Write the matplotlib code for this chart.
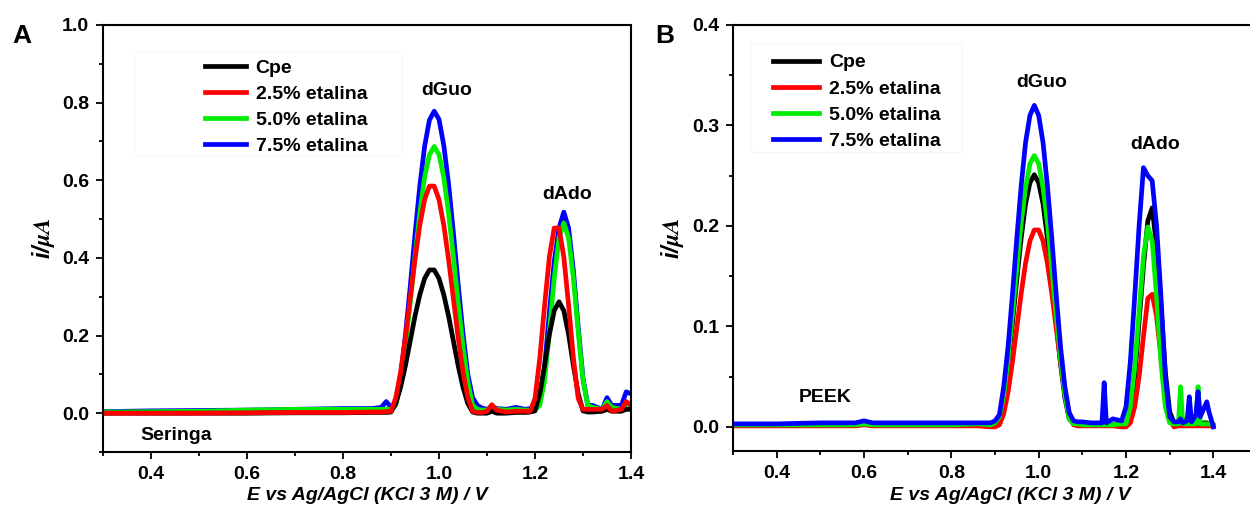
import matplotlib
matplotlib.use("Agg")
import matplotlib.pyplot as plt
from matplotlib.patches import Rectangle
from matplotlib.ticker import MultipleLocator

plt.rcParams["font.family"] = ["Liberation Sans", "DejaVu Sans"]
plt.rcParams["font.weight"] = "bold"
plt.rcParams["mathtext.fontset"] = "stix"

# --------------------------------------------
# data
# --------------------------------------------
labels = ["Cpe", "2.5% etalina", "5.0% etalina", "7.5% etalina"]
colors = ["#000000", "#ff0000", "#00ee00", "#0000ff"]

# panel A : Seringa
xa = [0.30, 0.40, 0.50, 0.60, 0.70, 0.80, 0.86, 0.88, 0.89, 0.90,
      0.91, 0.92, 0.93, 0.94, 0.95, 0.96, 0.97, 0.98, 0.99, 1.00,
      1.01, 1.02, 1.03, 1.04, 1.05, 1.06, 1.07, 1.08, 1.09, 1.10,
      1.11, 1.12, 1.14, 1.16, 1.18, 1.19, 1.20, 1.21, 1.22, 1.23,
      1.24, 1.25, 1.26, 1.27, 1.28, 1.29, 1.30, 1.31, 1.32, 1.34,
      1.35, 1.36, 1.38, 1.39, 1.40]
a_cpe = [0.0, 0.0, 0.0, 0.0, 0.001, 0.001, 0.002, 0.002, 0.002, 0.003,
         0.025, 0.067, 0.122, 0.186, 0.25, 0.305, 0.347, 0.369, 0.369, 0.347,
         0.305, 0.25, 0.186, 0.122, 0.067, 0.025, 0.003, 0.0, 0.0, 0.0,
         0.005, 0.0, 0.0, 0.002, 0.002, 0.003, 0.006, 0.05, 0.123, 0.203,
         0.264, 0.287, 0.264, 0.203, 0.123, 0.05, 0.006, 0.003, 0.003, 0.005,
         0.01, 0.005, 0.005, 0.01, 0.01]
a_25 = [0.0, 0.0, 0.0, 0.001, 0.002, 0.002, 0.003, 0.003, 0.004, 0.005,
        0.04, 0.106, 0.194, 0.295, 0.396, 0.484, 0.55, 0.585, 0.585, 0.55,
        0.484, 0.396, 0.295, 0.194, 0.106, 0.04, 0.005, 0.002, 0.002, 0.005,
        0.022, 0.008, 0.003, 0.005, 0.005, 0.005, 0.038, 0.142, 0.278, 0.403,
        0.477, 0.477, 0.403, 0.278, 0.142, 0.038, 0.01, 0.01, 0.01, 0.01,
        0.02, 0.005, 0.01, 0.03, 0.02]
a_50 = [0.003, 0.004, 0.005, 0.008, 0.01, 0.01, 0.01, 0.01, 0.01, 0.01,
        0.021, 0.08, 0.172, 0.284, 0.403, 0.515, 0.607, 0.666, 0.687, 0.666,
        0.607, 0.515, 0.403, 0.284, 0.172, 0.08, 0.021, 0.01, 0.008, 0.008,
        0.01, 0.01, 0.008, 0.01, 0.008, 0.008, 0.009, 0.02, 0.085, 0.21,
        0.347, 0.451, 0.49, 0.451, 0.347, 0.21, 0.085, 0.02, 0.015, 0.01,
        0.03, 0.015, 0.01, 0.02, 0.02]
a_75 = [0.004, 0.006, 0.007, 0.008, 0.01, 0.012, 0.012, 0.015, 0.03, 0.015,
        0.03, 0.095, 0.2, 0.325, 0.46, 0.585, 0.687, 0.755, 0.778, 0.757,
        0.69, 0.59, 0.465, 0.33, 0.205, 0.1, 0.04, 0.02, 0.013, 0.01,
        0.015, 0.012, 0.01, 0.015, 0.01, 0.012, 0.013, 0.03, 0.12, 0.26,
        0.39, 0.477, 0.518, 0.477, 0.367, 0.222, 0.09, 0.02, 0.02, 0.01,
        0.04, 0.02, 0.02, 0.055, 0.05]

# panel B : PEEK
xb = [0.30, 0.40, 0.50, 0.58, 0.60, 0.62, 0.70, 0.80, 0.86, 0.89,
      0.90, 0.91, 0.92, 0.93, 0.94, 0.95, 0.96, 0.97, 0.98, 0.99,
      1.00, 1.01, 1.02, 1.03, 1.04, 1.05, 1.06, 1.07, 1.08, 1.09,
      1.10, 1.12, 1.145, 1.15, 1.155, 1.17, 1.19,
      1.20, 1.21, 1.22, 1.23, 1.24, 1.25, 1.26, 1.27, 1.28, 1.29, 1.30, 1.31,
      1.32, 1.325, 1.33, 1.34, 1.345, 1.35, 1.36, 1.365, 1.37, 1.38, 1.385, 1.39, 1.40]
b_cpe = [0.002, 0.002, 0.003, 0.003, 0.004, 0.003, 0.003, 0.003, 0.003, 0.002,
         0.003, 0.008, 0.029, 0.063, 0.104, 0.147, 0.188, 0.222, 0.243, 0.251,
         0.243, 0.222, 0.188, 0.147, 0.104, 0.063, 0.029, 0.008, 0.003, 0.002,
         0.002, 0.002, 0.002, 0.003, 0.002, 0.002, 0.003,
         0.003, 0.015, 0.05, 0.105, 0.16, 0.205, 0.218, 0.18, 0.12, 0.055, 0.015, 0.004,
         0.004, 0.004, 0.008, 0.004, 0.004, 0.004, 0.004, 0.004, 0.004, 0.004, 0.004, 0.003, 0.002]
b_25 = [0.001, 0.001, 0.001, 0.001, 0.002, 0.001, 0.001, 0.001, 0.001, 0.0,
        0.0, 0.002, 0.013, 0.035, 0.065, 0.099, 0.133, 0.163, 0.185, 0.196,
        0.196, 0.185, 0.163, 0.133, 0.099, 0.065, 0.035, 0.013, 0.002, 0.001,
        0.001, 0.001, 0.001, 0.001, 0.001, 0.001, 0.0,
        0.0, 0.004, 0.02, 0.05, 0.09, 0.128, 0.132, 0.11, 0.07, 0.03, 0.008, 0.0,
        0.001, 0.001, 0.001, 0.001, 0.001, 0.001, 0.001, 0.001, 0.001, 0.001, 0.001, 0.001, 0.001]
b_50 = [0.002, 0.002, 0.002, 0.002, 0.003, 0.002, 0.002, 0.002, 0.003, 0.002,
        0.004, 0.01, 0.032, 0.068, 0.112, 0.158, 0.203, 0.238, 0.262, 0.27,
        0.262, 0.238, 0.203, 0.158, 0.112, 0.068, 0.032, 0.008, 0.003, 0.003,
        0.002, 0.002, 0.002, 0.002, 0.002, 0.002, 0.003,
        0.003, 0.02, 0.06, 0.115, 0.17, 0.199, 0.185, 0.13, 0.065, 0.02, 0.004, 0.003,
        0.003, 0.04, 0.003, 0.003, 0.003, 0.003, 0.003, 0.04, 0.003, 0.003, 0.003, 0.003, 0.002]
b_75 = [0.003, 0.003, 0.004, 0.004, 0.006, 0.004, 0.004, 0.004, 0.004, 0.004,
        0.006, 0.012, 0.04, 0.08, 0.132, 0.188, 0.24, 0.283, 0.31, 0.32,
        0.31, 0.283, 0.24, 0.188, 0.132, 0.08, 0.04, 0.014, 0.006, 0.005,
        0.005, 0.004, 0.004, 0.044, 0.004, 0.008, 0.006,
        0.02, 0.065, 0.13, 0.2, 0.258, 0.25, 0.245, 0.2, 0.13, 0.05, 0.01, 0.005,
        0.005, 0.008, 0.004, 0.006, 0.03, 0.005, 0.012, 0.035, 0.01, 0.02, 0.025, 0.015, 0.0]

series_a = [a_cpe, a_25, a_50, a_75]
series_b = [b_cpe, b_25, b_50, b_75]

# --------------------------------------------
# figure
# --------------------------------------------
fig = plt.figure(figsize=(12.5, 5.08), dpi=100)
ax_a = fig.add_axes([0.0824, 0.1102, 0.4224, 0.8406])
ax_b = fig.add_axes([0.5864, 0.1122, 0.4192, 0.8386])


def style_axes(ax, ymin, ymax, ymajor, yminor, xlim):
    ax.set_xlim(*xlim)
    ax.set_ylim(ymin, ymax)
    ax.xaxis.set_major_locator(MultipleLocator(0.2))
    ax.xaxis.set_minor_locator(MultipleLocator(0.1))
    ax.yaxis.set_major_locator(MultipleLocator(ymajor))
    ax.yaxis.set_minor_locator(MultipleLocator(yminor))
    ax.tick_params(which="major", length=5, width=1.3, labelsize=14, pad=5)
    ax.tick_params(which="minor", length=3, width=1.3)
    for sp in ax.spines.values():
        sp.set_linewidth(1.5)
    for lab in ax.get_xticklabels() + ax.get_yticklabels():
        lab.set_fontweight("bold")
    ax.set_xlabel("E vs Ag/AgCl (KCl 3 M) / V", fontsize=14,
                  fontstyle="italic", fontweight="bold")
    ax.set_ylabel(r"i/$\mu A$", fontsize=17, fontstyle="italic",
                  fontweight="bold")


# panel A: red drawn on top
handles = {}
for i in [3, 2, 0, 1]:
    (ln,) = ax_a.plot(xa, series_a[i], color=colors[i], lw=3.4,
                      solid_joinstyle="round", label=labels[i])
    handles[i] = ln
style_axes(ax_a, -0.1, 1.0, 0.2, 0.1, (0.3, 1.4))
ax_a.xaxis.set_label_coords(0.5, -0.083)
ax_a.yaxis.set_label_coords(-0.088, 0.5)
ax_a.legend([handles[i] for i in range(4)], labels, loc="upper left",
            bbox_to_anchor=(0.164, 0.884), bbox_transform=fig.transFigure,
            frameon=False, fontsize=14, handlelength=2.1, handletextpad=0.5,
            labelspacing=0.44, borderpad=0, borderaxespad=0)
ax_a.add_patch(Rectangle((135 / 1250, 1 - 155 / 508), 267 / 1250, 103 / 508,
                         transform=fig.transFigure, fill=False,
                         edgecolor="#f8f8f8", lw=0.8))
ax_a.text(1.015, 0.832, "dGuo", fontsize=14, ha="center", va="center")
ax_a.text(1.267, 0.564, "dAdo", fontsize=14, ha="center", va="center")
ax_a.text(0.452, -0.057, "Seringa", fontsize=14, ha="center", va="center")

# panel B: blue drawn on top
handles = {}
for i in [0, 1, 2, 3]:
    (ln,) = ax_b.plot(xb, series_b[i], color=colors[i], lw=3.4,
                      solid_joinstyle="round", label=labels[i])
    handles[i] = ln
style_axes(ax_b, -0.024, 0.4, 0.1, 0.05, (0.3, 1.5))
ax_b.set_xticks([0.4, 0.6, 0.8, 1.0, 1.2, 1.4])
ax_b.xaxis.set_label_coords(0.529, -0.085)
ax_b.yaxis.set_label_coords(-0.09, 0.5)
ax_b.legend([handles[i] for i in range(4)], labels, loc="upper left",
            bbox_to_anchor=(0.618, 0.894), bbox_transform=fig.transFigure,
            frameon=False, fontsize=14, handlelength=2.4, handletextpad=0.5,
            labelspacing=0.44, borderpad=0, borderaxespad=0)
ax_b.add_patch(Rectangle((751 / 1250, 1 - 152 / 508), 211 / 1250, 109 / 508,
                         transform=fig.transFigure, fill=False,
                         edgecolor="#f8f8f8", lw=0.8))
ax_b.text(1.006, 0.343, "dGuo", fontsize=14, ha="center", va="center")
ax_b.text(1.266, 0.281, "dAdo", fontsize=14, ha="center", va="center")
ax_b.text(0.51, 0.029, "PEEK", fontsize=14, ha="center", va="center")

fig.text(12 / 1250, 1 - 43 / 508, "A", fontsize=19, fontweight="bold")
fig.text(655 / 1250, 1 - 43 / 508, "B", fontsize=19, fontweight="bold")

fig.savefig("out.png", dpi=100)
